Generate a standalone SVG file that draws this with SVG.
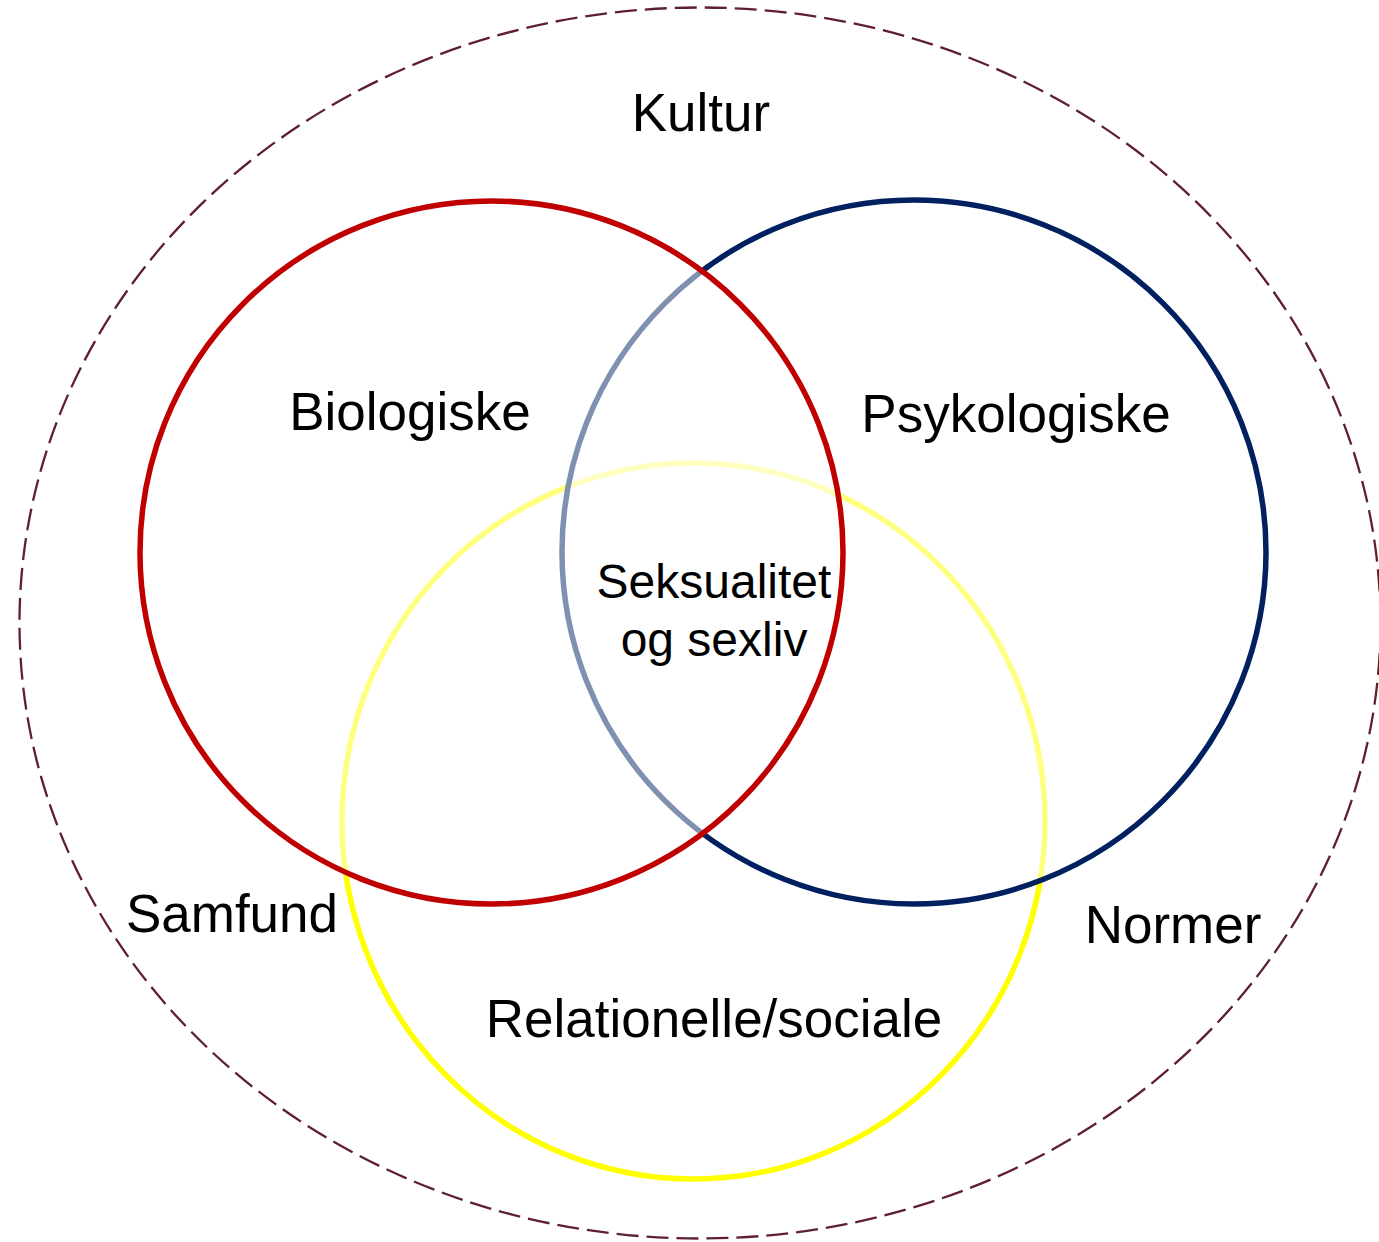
<svg xmlns="http://www.w3.org/2000/svg" width="1379" height="1242" viewBox="0 0 1379 1242">
<style>
text{font-family:"Liberation Sans",Arial,sans-serif;fill:#000;text-anchor:middle}
.big{font-size:53px}
.mid{font-size:48px}
.ring{stroke-width:5.5}
.veil{fill:#fff;fill-opacity:0.5}
</style>
<rect width="1379" height="1242" fill="#fff"/>
<g id="kultur">
<ellipse cx="700" cy="623" rx="680.5" ry="615.5" fill="none" stroke="#5F1F32" stroke-width="2.3" stroke-dasharray="22 8"/>
<text class="big" x="701" y="131">Kultur</text>
</g>
<g id="relationelle">
<ellipse class="ring" cx="693.5" cy="821" rx="351.5" ry="358" fill="none" stroke="#FFFF00"/>
</g>
<g id="psykologiske">
<circle class="ring veil" cx="914" cy="552" r="352" stroke="#002060"/>
</g>
<g id="biologiske">
<circle class="ring veil" cx="491.5" cy="552.5" r="351.5" stroke="#C00000"/>
</g>
<g id="labels">
<text class="big" x="410" y="430">Biologiske</text>
<text class="big" x="1016" y="432">Psykologiske</text>
<text class="big" x="232" y="932">Samfund</text>
<text class="big" x="1173" y="943">Normer</text>
<text class="big" x="714" y="1037">Relationelle/sociale</text>
</g>
<g id="center">
<text class="mid" x="714" y="598">Seksualitet</text>
<text class="mid" x="714" y="656">og sexliv</text>
</g>
<g id="connectors"/>
</svg>
